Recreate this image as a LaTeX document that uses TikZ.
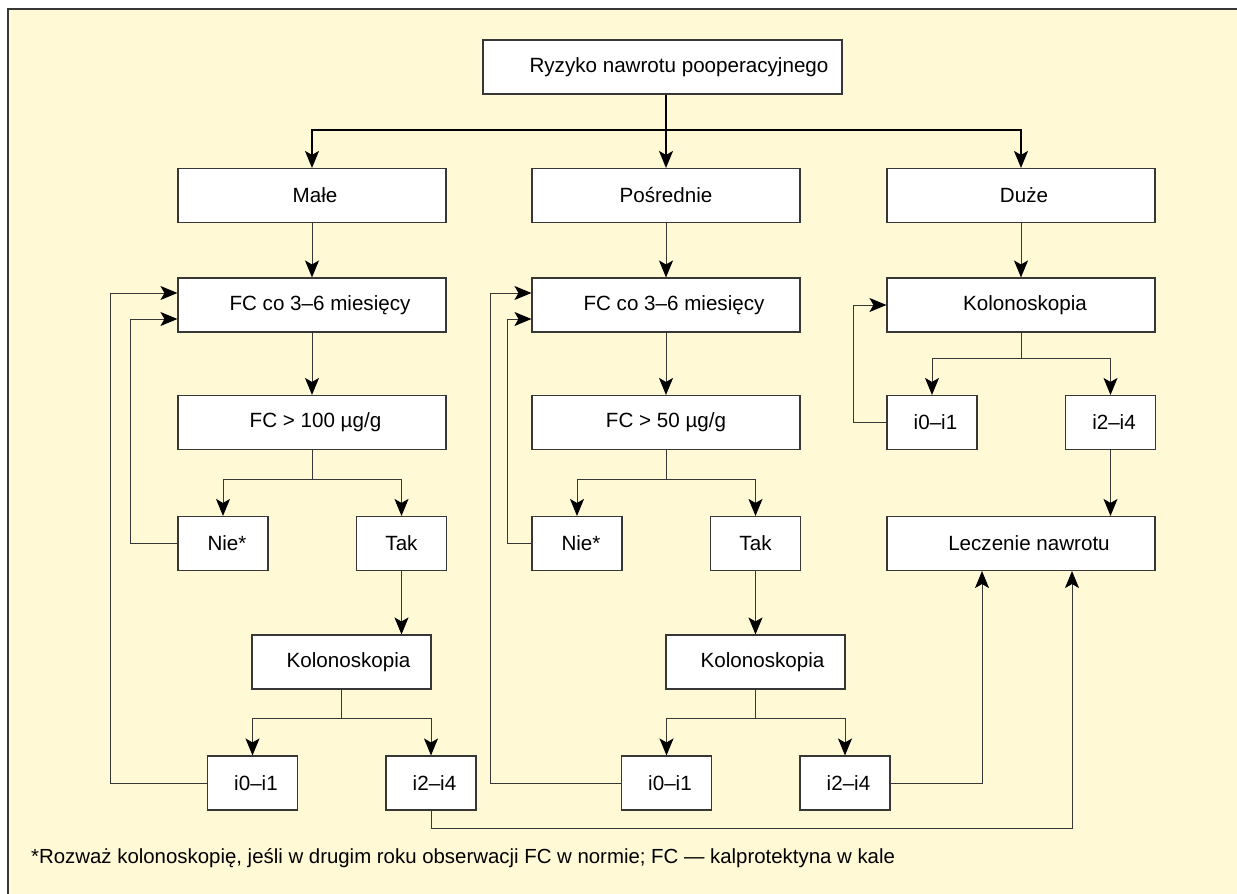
\documentclass[tikz,border=0pt]{standalone}
\usepackage{fontspec}
\setmainfont{Liberation Sans}
\usetikzlibrary{arrows.meta}
\definecolor{bgc}{RGB}{255,249,214}
\definecolor{linec}{RGB}{55,55,55}
\begin{document}
\begin{tikzpicture}[x=1pt,y=-1pt,
  box/.style={draw=linec, line width=1.1pt, fill=white, inner sep=0pt, minimum height=54pt, font=\fontsize{20.6}{24}\selectfont},
  wide/.style={box, minimum width=268pt},
  mid/.style={box, minimum width=179pt},
  small/.style={box, minimum width=90pt},
  ts/.style={execute at begin node={\hspace*{#1}}},
  tip/.tip={Stealth[length=17pt,width=14pt,inset=4pt,black]},
  conn/.style={draw=linec, line width=1pt, -tip},
  bold/.style={draw=black, line width=1.6pt, -tip},
  plain/.style={draw=linec, line width=1pt},
]
\useasboundingbox (0,0) rectangle (1237,894);
\clip (0,0) rectangle (1237,894);
\fill[white] (0,0) rectangle (1237,894);
\fill[bgc] (8,9) rectangle (1250,910);
\draw[draw=linec, line width=1.5pt] (8,910) -- (8,9) -- (1250,9);

% nodes
\node[box, minimum width=359pt, ts=33pt] (top) at (662.5,67) {Ryzyko nawrotu pooperacyjnego};
\node[wide, ts=6pt] (male) at (312,195.5) {Małe};
\node[wide] (pos) at (666,195.5) {Pośrednie};
\node[wide, ts=6pt] (due) at (1021,195.5) {Duże};
\node[wide, ts=16pt] (fcL) at (312,305) {FC co 3–6 miesięcy};
\node[wide, ts=16pt] (fcM) at (666,305) {FC co 3–6 miesięcy};
\node[wide, ts=8pt] (kolR) at (1021,305) {Kolonoskopia};
\node[wide, ts=7pt] (thrL) at (312,422.5) {FC > 100 µg/g};
\node[wide] (thrM) at (666,422.5) {FC > 50 µg/g};
\node[small, ts=7pt] (i01R) at (932,422.5) {i0–i1};
\node[small, ts=7pt] (i24R) at (1110.5,422.5) {i2–i4};
\node[small, ts=8pt] (nieL) at (223,543.5) {Nie*};
\node[small] (takL) at (401.5,543.5) {Tak};
\node[small, ts=8pt] (nieM) at (577,543.5) {Nie*};
\node[small] (takM) at (755.5,543.5) {Tak};
\node[wide, ts=16pt] (lecz) at (1021,543.5) {Leczenie nawrotu};
\node[mid, ts=14pt] (kolL) at (341.5,662) {Kolonoskopia};
\node[mid, ts=14pt] (kolM) at (755.5,662) {Kolonoskopia};
\node[small, ts=7pt] (i01L) at (252.5,783) {i0–i1};
\node[small, ts=7pt] (i24L) at (431,783) {i2–i4};
\node[small, ts=7pt] (i01M) at (666.5,783) {i0–i1};
\node[small, ts=7pt] (i24M) at (845,783) {i2–i4};

\node[anchor=west, inner sep=0pt, font=\fontsize{20.4}{24}\selectfont] (note) at (31,858)
  {*Rozważ kolonoskopię, jeśli w drugim roku obserwacji FC w normie; FC — kalprotektyna w kale};

% top distribution
\coordinate (bus) at (666,130);
\draw[bold] (top.south -| pos.north) -- (pos.north);
\draw[bold] (bus) -| (male.north);
\draw[bold] (bus) -| (due.north);

% column arrows
\draw[conn] (male) -- (fcL);
\draw[conn] (pos) -- (fcM);
\draw[conn] (due) -- (kolR);
\draw[conn] (fcL) -- (thrL);
\draw[conn] (fcM) -- (thrM);

% splits
\draw[plain] (thrL.south) -- ++(0,29) coordinate (sL);
\draw[conn] (sL) -| (nieL.north);
\draw[conn] (sL) -| (takL.north);
\draw[plain] (thrM.south) -- ++(0,29) coordinate (sM);
\draw[conn] (sM) -| (nieM.north);
\draw[conn] (sM) -| (takM.north);
\draw[plain] (kolR.south) -- ++(0,26) coordinate (sR);
\draw[conn] (sR) -| (i01R.north);
\draw[conn] (sR) -| (i24R.north);
\draw[conn] (takL.south) -- (takL.south |- kolL.north);
\draw[conn] (takM.south) -- (takM.south |- kolM.north);
\draw[plain] (kolL.south) -- ++(0,29) coordinate (kL);
\draw[conn] (kL) -| (i01L.north);
\draw[conn] (kL) -| (i24L.north);
\draw[plain] (kolM.south) -- ++(0,29) coordinate (kM);
\draw[conn] (kM) -| (i01M.north);
\draw[conn] (kM) -| (i24M.north);
\draw[conn] (i24R.south) -- (i24R.south |- lecz.north);

% loops
\draw[conn] (i01L.west) -- ++(-96,0) |- ([yshift=12pt]fcL.west);
\draw[conn] (nieL.west) -- ++(-47,0) |- ([yshift=-14pt]fcL.west);
\draw[conn] (i01M.west) -- ++(-130,0) |- ([yshift=12pt]fcM.west);
\draw[conn] (nieM.west) -- ++(-24,0) |- ([yshift=-14pt]fcM.west);
\draw[conn] (i01R.west) -- ++(-33,0) |- (kolR.west);

% to treatment
\draw[conn] (i24M.east) -| ([xshift=-39pt]lecz.south);
\draw[conn] (i24L.south) -- ++(0,18) -| ([xshift=51pt]lecz.south);
\end{tikzpicture}
\end{document}
